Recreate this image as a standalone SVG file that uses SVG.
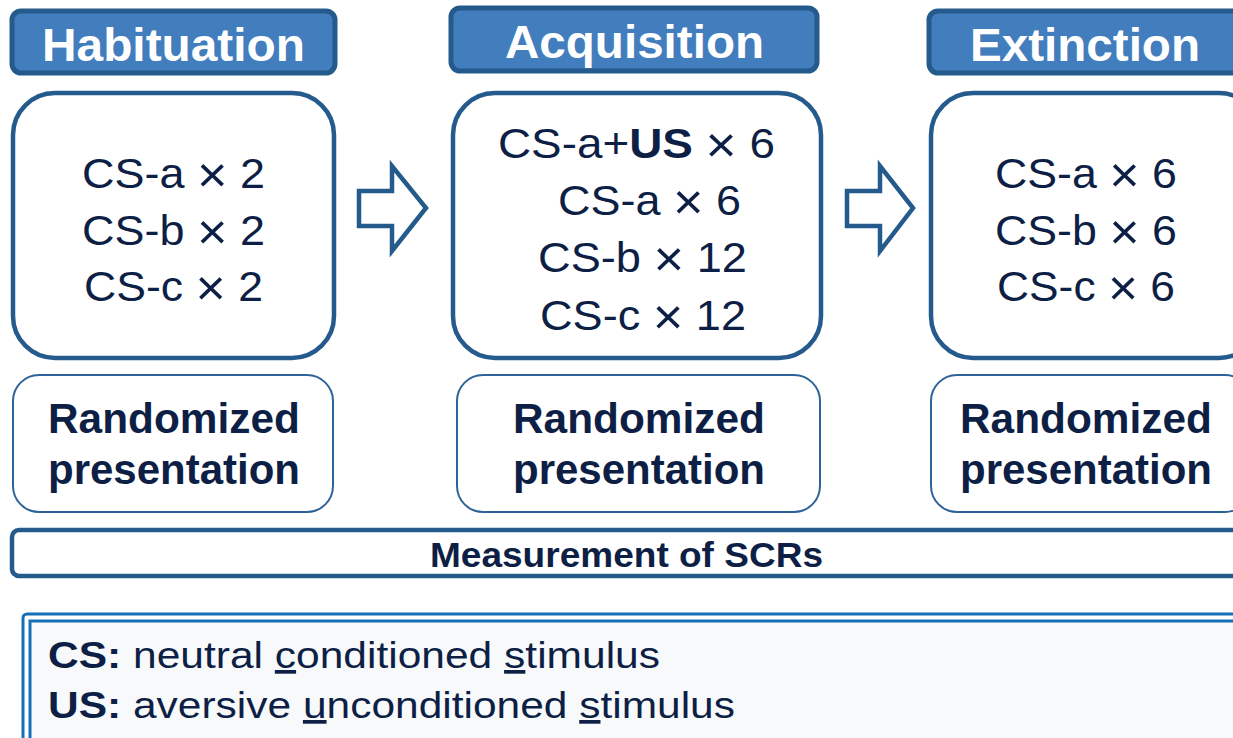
<svg xmlns="http://www.w3.org/2000/svg" width="1233" height="738" viewBox="0 0 1233 738">
<defs>
<style>
.hdr{fill:#427DBD;stroke:#245A8C;stroke-width:5}
.hdrt{font-family:"Liberation Sans",Arial,sans-serif;font-weight:bold;font-size:47px;fill:#ffffff}
.main{fill:#ffffff;stroke:#245A8C;stroke-width:4.5}
.rnd{fill:#ffffff;stroke:#2E639A;stroke-width:2}
.ct{font-family:"Liberation Sans",Arial,sans-serif;font-size:43px;fill:#0E1F46}
.x{font-size:50px}
.rt{font-family:"Liberation Sans",Arial,sans-serif;font-weight:bold;font-size:42px;fill:#0E1F46}
.arrow{fill:#ffffff;stroke:#245A8C;stroke-width:4.5;stroke-linejoin:miter}
.lg{font-family:"Liberation Sans",Arial,sans-serif;font-size:37px;fill:#0E1F46}
</style>
</defs>
<rect width="1233" height="738" fill="#ffffff"/>

<g id="habituation">
<rect class="hdr" x="12" y="11" width="323" height="62" rx="9"/>
<text class="hdrt" x="42" y="61" textLength="263" lengthAdjust="spacingAndGlyphs">Habituation</text>
<rect class="main" x="13" y="93" width="321" height="265" rx="42"/>
<text class="ct" x="82" y="188" textLength="183" lengthAdjust="spacingAndGlyphs">CS-a <tspan class="x" dy="4">×</tspan><tspan dy="-4"> 2</tspan></text>
<text class="ct" x="82" y="245" textLength="183" lengthAdjust="spacingAndGlyphs">CS-b <tspan class="x" dy="4">×</tspan><tspan dy="-4"> 2</tspan></text>
<text class="ct" x="84" y="301" textLength="179" lengthAdjust="spacingAndGlyphs">CS-c <tspan class="x" dy="4">×</tspan><tspan dy="-4"> 2</tspan></text>
</g>
<g id="habituation-random">
<rect class="rnd" x="13" y="375" width="320" height="137" rx="26"/>
<text class="rt" x="48" y="433" textLength="252" lengthAdjust="spacingAndGlyphs">Randomized</text>
<text class="rt" x="48" y="484" textLength="252" lengthAdjust="spacingAndGlyphs">presentation</text>
</g>

<g id="acquisition">
<rect class="hdr" x="451" y="8" width="366" height="63" rx="9"/>
<text class="hdrt" x="505" y="58" textLength="259" lengthAdjust="spacingAndGlyphs">Acquisition</text>
<rect class="main" x="453" y="93" width="368" height="265" rx="42"/>
<text class="ct" x="498" y="158" textLength="277" lengthAdjust="spacingAndGlyphs">CS-a+<tspan font-weight="bold">US</tspan> <tspan class="x" dy="4">×</tspan><tspan dy="-4"> 6</tspan></text>
<text class="ct" x="558" y="215" textLength="183" lengthAdjust="spacingAndGlyphs">CS-a <tspan class="x" dy="4">×</tspan><tspan dy="-4"> 6</tspan></text>
<text class="ct" x="538" y="272" textLength="209" lengthAdjust="spacingAndGlyphs">CS-b <tspan class="x" dy="4">×</tspan><tspan dy="-4"> 12</tspan></text>
<text class="ct" x="540" y="330" textLength="206" lengthAdjust="spacingAndGlyphs">CS-c <tspan class="x" dy="4">×</tspan><tspan dy="-4"> 12</tspan></text>
</g>
<g id="acquisition-random">
<rect class="rnd" x="457" y="375" width="363" height="137" rx="26"/>
<text class="rt" x="513" y="433" textLength="252" lengthAdjust="spacingAndGlyphs">Randomized</text>
<text class="rt" x="513" y="484" textLength="252" lengthAdjust="spacingAndGlyphs">presentation</text>
</g>

<g id="extinction">
<rect class="hdr" x="929" y="11" width="330" height="62" rx="9"/>
<text class="hdrt" x="970" y="61" textLength="230" lengthAdjust="spacingAndGlyphs">Extinction</text>
<rect class="main" x="931" y="93" width="330" height="265" rx="42"/>
<text class="ct" x="995" y="188" textLength="182" lengthAdjust="spacingAndGlyphs">CS-a <tspan class="x" dy="4">×</tspan><tspan dy="-4"> 6</tspan></text>
<text class="ct" x="995" y="245" textLength="182" lengthAdjust="spacingAndGlyphs">CS-b <tspan class="x" dy="4">×</tspan><tspan dy="-4"> 6</tspan></text>
<text class="ct" x="997" y="301" textLength="178" lengthAdjust="spacingAndGlyphs">CS-c <tspan class="x" dy="4">×</tspan><tspan dy="-4"> 6</tspan></text>
</g>
<g id="extinction-random">
<rect class="rnd" x="931" y="375" width="320" height="137" rx="26"/>
<text class="rt" x="960" y="433" textLength="252" lengthAdjust="spacingAndGlyphs">Randomized</text>
<text class="rt" x="960" y="484" textLength="252" lengthAdjust="spacingAndGlyphs">presentation</text>
</g>

<g id="connectors">
<polygon class="arrow" points="359,191 392,191 392,166 426,208 392,251 392,226 359,226"/>
<polygon class="arrow" points="847,191 880,191 880,166 913,208 880,251 880,226 847,226"/>
</g>

<g id="measurement">
<rect x="12" y="530" width="1240" height="46" rx="7" fill="#ffffff" stroke="#245A8C" stroke-width="4.5"/>
<text x="430" y="567" font-family="Liberation Sans, Arial, sans-serif" font-weight="bold" font-size="35" fill="#0E1F46" textLength="393" lengthAdjust="spacingAndGlyphs">Measurement of SCRs</text>
</g>

<g id="legend">
<rect x="23" y="614" width="1230" height="140" rx="4" fill="#ffffff" stroke="#1670B8" stroke-width="3"/>
<rect x="30" y="621" width="1220" height="130" fill="#F7F9FB" stroke="#1670B8" stroke-width="3"/>
<text class="lg" x="48" y="668" textLength="612" lengthAdjust="spacingAndGlyphs"><tspan font-weight="bold">CS:</tspan> neutral <tspan text-decoration="underline">c</tspan>onditioned <tspan text-decoration="underline">s</tspan>timulus</text>
<text class="lg" x="48" y="718" textLength="687" lengthAdjust="spacingAndGlyphs"><tspan font-weight="bold">US:</tspan> aversive <tspan text-decoration="underline">u</tspan>nconditioned <tspan text-decoration="underline">s</tspan>timulus</text>
</g>
</svg>
